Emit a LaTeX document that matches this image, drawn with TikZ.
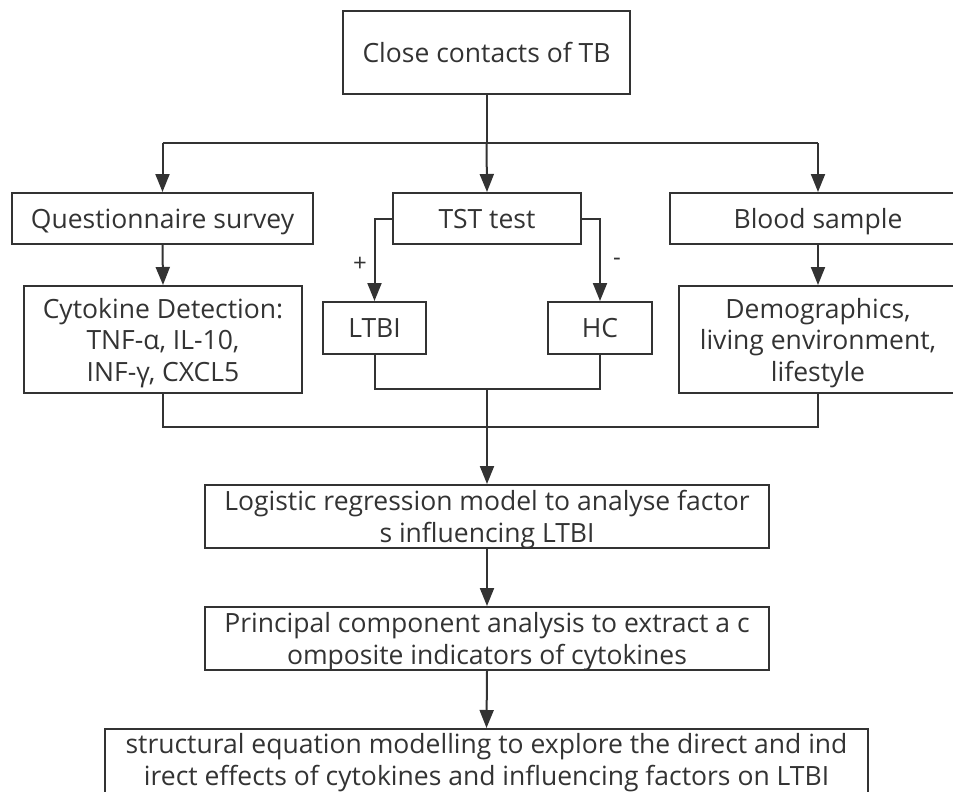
\documentclass[tikz,border=0pt]{standalone}
\usepackage{fontspec}
\setmainfont{Open Sans}
\usetikzlibrary{arrows.meta}
\definecolor{ink}{HTML}{333333}
\begin{document}
\begin{tikzpicture}[x=1pt,y=-1pt,
  box/.style={draw=ink,line width=2pt,text=ink,align=center,inner sep=0pt,text depth=0pt,
    font=\fontsize{26.5}{31.5}\selectfont},
  conn/.style={draw=ink,line width=2pt},
  arr/.style={conn,-{Triangle[length=18pt,width=14pt]}},
  sign/.style={text=ink,font=\fontsize{24}{26}\selectfont}]
\useasboundingbox (0,0) rectangle (953,792);
\node[box,minimum width=287pt,minimum height=83pt] (top) at (486.5,52.5) {Close contacts of TB};
\node[box,minimum width=301pt,minimum height=51pt] (q) at (162.5,218.5) {Questionnaire survey};
\node[box,minimum width=188pt,minimum height=51pt] (tst) at (487,218.5) {TST test};
\node[box,minimum width=296pt,minimum height=51pt] (blood) at (818,218.5) {Blood sample};
\node[box,minimum width=278pt,minimum height=107pt] (cyt) at (163,339.5) {Cytokine Detection:\\TNF-α, IL-10,\\INF-γ, CXCL5};
\node[box,minimum width=103pt,minimum height=52pt] (ltbi) at (374.5,328) {LTBI};
\node[box,minimum width=104pt,minimum height=52pt] (hc) at (600,328) {HC};
\node[box,minimum width=278pt,minimum height=107pt] (demo) at (818,339.5) {Demographics,\\living environment,\\lifestyle};
\node[box,minimum width=564pt,minimum height=63pt] (logit) at (487,516.5) {Logistic regression model to analyse factor\\s influencing LTBI};
\node[box,minimum width=564pt,minimum height=63pt] (pca) at (487,638.5) {Principal component analysis to extract a c\\omposite indicators of cytokines};
\node[box,text depth=,minimum width=763pt,minimum height=67pt] (sem) at (486.5,762.5) {structural equation modelling to explore the direct and ind\\irect effects of cytokines and influencing factors on LTBI};
\coordinate (j1) at (486.5,143);
\coordinate (j2) at (487,389);
\coordinate (j3) at (487,427);
\draw[conn] (top.south) -- (j1);
\draw[conn] (j1 -| q.north) -- (j1 -| blood.north);
\draw[arr] (j1 -| q.north) -- (q.north);
\draw[arr] (j1) -- (tst.north);
\draw[arr] (j1 -| blood.north) -- (blood.north);
\draw[arr] (q.south) -- (cyt.north);
\draw[arr] (blood.south) -- (demo.north);
\draw[arr] (tst.west) -| (ltbi.north);
\draw[arr] (tst.east) -| (hc.north);
\node[sign] (plus) at (360,264) {+};
\node[sign] (minus) at (617,262) {-};
\draw[conn] (ltbi.south) |- (j2) -| (hc.south);
\draw[conn] (cyt.south) |- (j3) -| (demo.south);
\draw[arr] (j2) -- (logit.north);
\draw[arr] (logit.south) -- (pca.north);
\draw[arr] (pca.south) -- (sem.north);
\end{tikzpicture}
\end{document}
